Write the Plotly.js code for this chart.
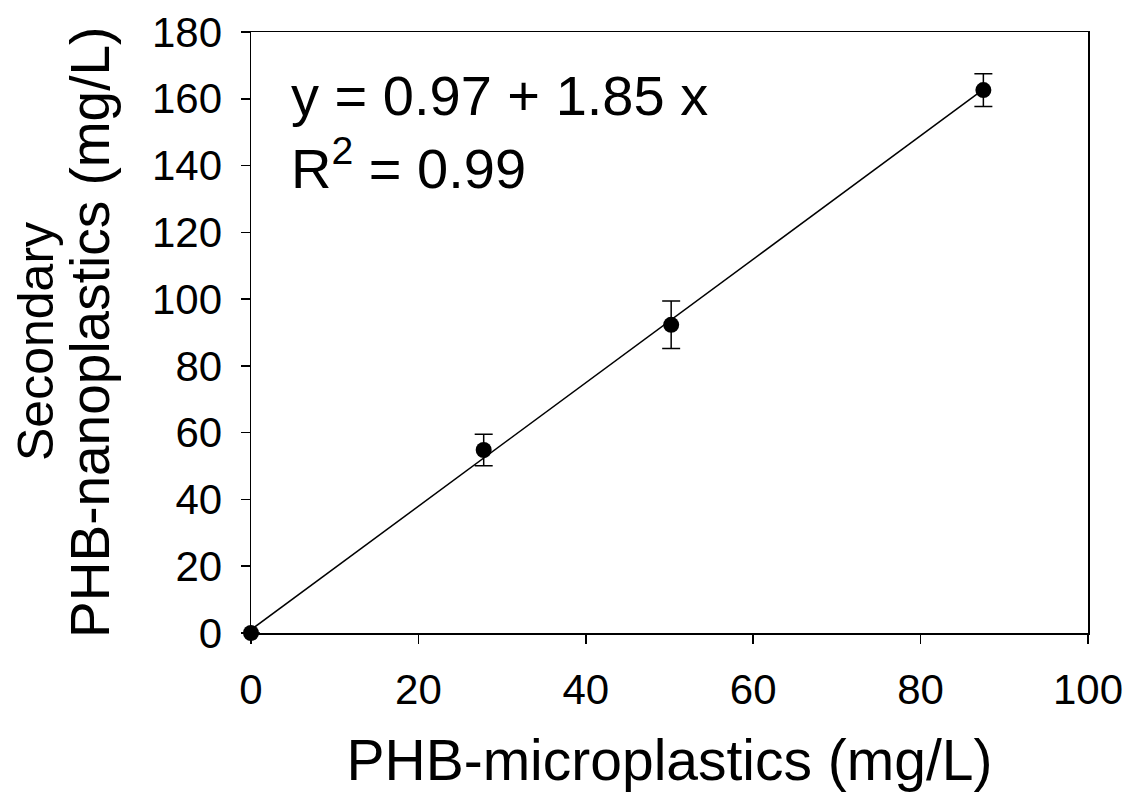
<!DOCTYPE html>
<html>
<head>
<meta charset="utf-8">
<script src="https://cdn.plot.ly/plotly-3.0.1.min.js"></script>
<style>html,body{margin:0;padding:0;background:#fff}#chart{width:1129px;height:796px}</style>
</head>
<body>
<div id="chart"></div>
<script>
// Data
var microX = [0, 27.8, 50.2, 87.5];
var nanoY = [0, 54.8, 92.3, 162.6];
var nanoErr = [0, 4.7, 7.1, 4.9];
var fitX = [0, 87.5];
var fitY = [0.97, 162.8];
var eqText = 'y = 0.97 + 1.85 x';
var r2Text = 'R<sup>2</sup> = 0.99';
var yTitle1 = 'Secondary';
var yTitle2 = 'PHB-nanoplastics (mg/L)';
var xTitle = 'PHB-microplastics (mg/L)';
var xTicks = [0, 20, 40, 60, 80, 100];
var yTicks = [0, 20, 40, 60, 80, 100, 120, 140, 160, 180];

var FONT = 'Liberation Sans, Arial, sans-serif';

var traces = [
  {
    x: fitX, y: fitY, type: 'scatter', mode: 'lines', cliponaxis: false,
    line: {color: '#000', width: 1.5}, showlegend: false, hoverinfo: 'skip'
  },
  {
    x: microX, y: nanoY, type: 'scatter', mode: 'markers', cliponaxis: false,
    marker: {color: '#000', size: 16},
    error_y: {type: 'data', array: nanoErr, visible: true, color: '#000', thickness: 1.5, width: 9},
    showlegend: false
  }
];

var titleFont = {size: 57, family: FONT, color: '#000'};
var yTitleFont1 = {size: 50, family: FONT, color: '#000'};
var yTitleFont2 = {size: 55, family: FONT, color: '#000'};

var layout = {
  width: 1129, height: 796,
  paper_bgcolor: '#fff', plot_bgcolor: '#fff',
  margin: {l: 251, r: 41, t: 32, b: 163, pad: 0},
  font: {family: FONT, color: '#000'},
  xaxis: {
    range: [0, 100], tickvals: xTicks, ticktext: xTicks.map(String),
    showgrid: false, zeroline: false,
    showline: true, linecolor: '#000', linewidth: 1.5, mirror: true,
    ticks: 'outside', ticklen: 9, tickwidth: 1.5, tickcolor: '#000',
    ticklabelstandoff: 10,
    tickfont: {size: 42, family: FONT, color: '#000'},
    title: {text: xTitle, font: titleFont, standoff: 28}
  },
  yaxis: {
    range: [0, 180], tickvals: yTicks, ticktext: yTicks.map(String),
    showgrid: false, zeroline: false,
    showline: true, linecolor: '#000', linewidth: 1.5, mirror: true,
    ticks: 'outside', ticklen: 9, tickwidth: 1.5, tickcolor: '#000',
    ticklabelstandoff: 10,
    tickfont: {size: 42, family: FONT, color: '#000'}
  },
  annotations: [
    {xref: 'paper', yref: 'paper', x: 0.045, y: 0.895, xanchor: 'left', yanchor: 'middle',
     text: eqText, showarrow: false, font: {size: 56, family: FONT, color: '#000'}},
    {xref: 'paper', yref: 'paper', x: 0.045, y: 0.78, xanchor: 'left', yanchor: 'middle',
     text: r2Text, showarrow: false, font: {size: 56, family: FONT, color: '#000'}},
    {xref: 'paper', yref: 'paper', x: -0.2575, y: 0.485, xanchor: 'center', yanchor: 'middle', textangle: -90,
     text: yTitle1, showarrow: false, font: yTitleFont1},
    {xref: 'paper', yref: 'paper', x: -0.193, y: 0.5, xanchor: 'center', yanchor: 'middle', textangle: -90,
     text: yTitle2, showarrow: false, font: yTitleFont2}
  ]
};

Plotly.newPlot('chart', traces, layout, {displayModeBar: false, staticPlot: true});
</script>
</body>
</html>
